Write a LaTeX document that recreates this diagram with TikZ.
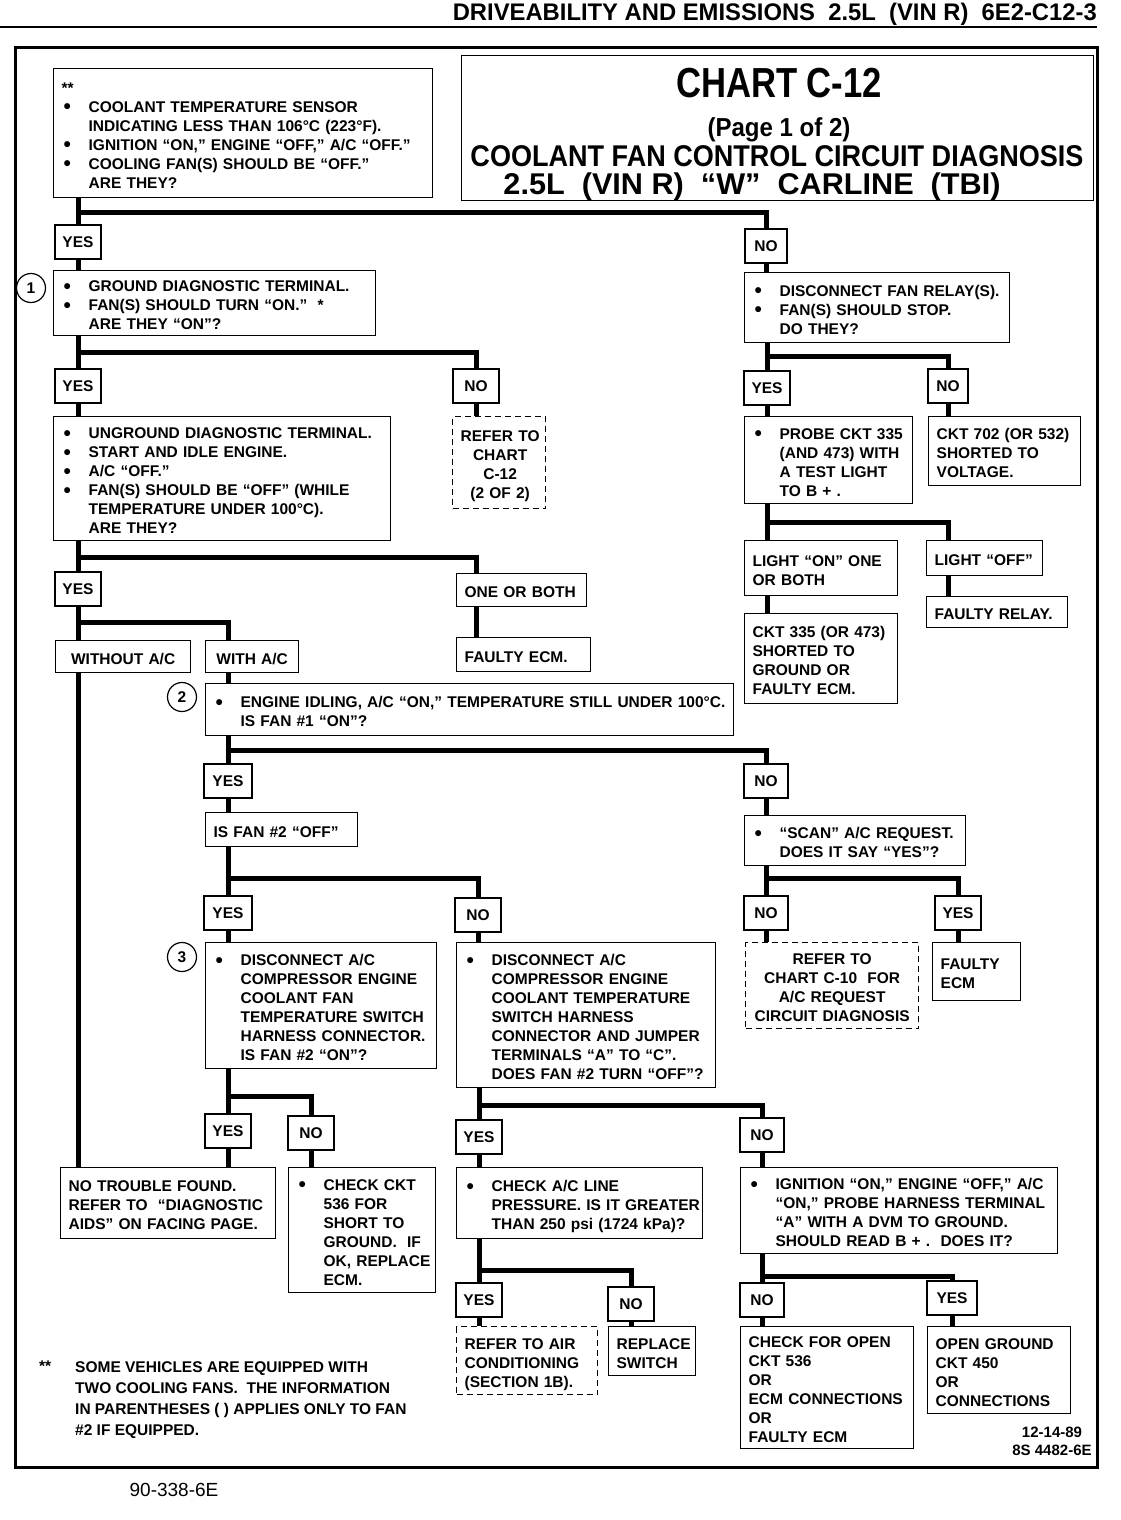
\documentclass[tikz,border=0pt]{standalone}
\usepackage{fontspec}
\setmainfont{Liberation Sans}
\usepackage{graphicx}

\newcommand{\bodyfont}{\fontsize{15.5}{19}\selectfont\bfseries}
\newcommand{\bul}{\makebox[27pt][l]{\hspace{2pt}\raisebox{-1.5pt}{\scalebox{1.35}{\textbullet}}}}
\newcommand{\ind}{\hspace*{27pt}}
\newcommand{\boxtext}[1]{\raisebox{-4pt}[\height][\depth]{\begin{tabular}{@{}l@{}}#1\end{tabular}}}
\newcommand{\boxtextc}[1]{\raisebox{-4pt}[\height][\depth]{\begin{tabular}{@{}c@{}}#1\end{tabular}}}

\tikzset{
  box/.style={draw, line width=1.3pt, anchor=north west, inner xsep=8pt, inner ysep=0pt, align=left, font=\bodyfont},
  cbox/.style={box, align=center},
  dbox/.style={box, dash pattern=on 6pt off 4pt},
  ans/.style={draw, line width=1.3pt, inner sep=0pt, minimum width=46pt, minimum height=34pt, font=\bodyfont},
  num/.style={draw, circle, line width=1.2pt, minimum size=29pt, inner sep=0pt, font=\bodyfont},
  flow/.style={line width=5pt},
}

\begin{document}
\begin{tikzpicture}[x=1pt,y=-1pt]
\useasboundingbox (0,0) rectangle (1120,1520);

% page header and frame
\node[anchor=base east, inner sep=0pt] (head) at (1097,21)
  {\resizebox{644pt}{\height}{\fontsize{24}{24}\selectfont\bfseries DRIVEABILITY AND EMISSIONS\ \ 2.5L\ \ (VIN R)\ \ 6E2-C12-3}};
\draw[line width=1.6pt] (0,27) -- (1097,27);
\draw[line width=3pt] (15,48) rectangle (1097,1467);

% title block
\node[draw, line width=1.3pt, anchor=north west, minimum width=632pt, minimum height=145pt] (title) at (461,55) {};
\node[anchor=base, inner sep=0pt] (ttl1) at (779,97) {\resizebox{206pt}{\height}{\fontsize{42}{42}\selectfont\bfseries CHART C-12}};
\node[anchor=base, inner sep=0pt] (ttl2) at (779,136) {\resizebox{143pt}{\height}{\fontsize{26}{26}\selectfont\bfseries (Page 1 of 2)}};
\node[anchor=base, inner sep=0pt] (ttl3) at (777,166) {\resizebox{613pt}{\height}{\fontsize{30}{30}\selectfont\bfseries COOLANT FAN CONTROL CIRCUIT DIAGNOSIS}};
\node[anchor=base, inner sep=0pt] (ttl4) at (752,194) {\resizebox{497pt}{\height}{\fontsize{30}{30}\selectfont\bfseries 2.5L\ \ (VIN R)\ \ “W”\ \ CARLINE\ \ (TBI)}};

% left column
\node[box, text width=363pt, minimum height=129pt] (q0) at (53,68) {\boxtext{**\\
  \bul COOLANT TEMPERATURE SENSOR\\
  \ind INDICATING LESS THAN 106°C (223°F).\\
  \bul IGNITION “ON,” ENGINE “OFF,” A/C “OFF.”\\
  \bul COOLING FAN(S) SHOULD BE “OFF.”\\
  \ind ARE THEY?}};
\node[ans] (y1) at (78,242) {YES};
\node[ans, minimum width=42pt] (n1) at (766,246) {NO};
\node[num] (c1) at (31,288) {1};
\node[box, text width=306pt, minimum height=65pt] (q1) at (53,270) {\boxtext{\bul GROUND DIAGNOSTIC TERMINAL.\\
  \bul FAN(S) SHOULD TURN “ON.”\ \ *\\
  \ind ARE THEY “ON”?}};
\node[box, text width=249pt, minimum height=70pt] (q1r) at (744,272) {\boxtext{\bul DISCONNECT FAN RELAY(S).\\
  \bul FAN(S) SHOULD STOP.\\
  \ind DO THEY?}};

\node[ans] (y2) at (78,386) {YES};
\node[ans] (n2) at (476,386) {NO};
\node[dbox, align=center, text width=77pt, minimum height=92pt] (refc12) at (452,416) {\boxtextc{REFER TO\\CHART\\C-12\\(2 OF 2)}};
\node[box, text width=321pt, minimum height=124pt] (q2) at (53,416) {\boxtext{\bul UNGROUND DIAGNOSTIC TERMINAL.\\
  \bul START AND IDLE ENGINE.\\
  \bul A/C “OFF.”\\
  \bul FAN(S) SHOULD BE “OFF” (WHILE\\
  \ind TEMPERATURE UNDER 100°C).\\
  \ind ARE THEY?}};

% right column, relay branch
\node[ans] (y2r) at (767,388) {YES};
\node[ans, minimum width=40pt] (n2r) at (948,386) {NO};
\node[box, text width=152pt, minimum height=87pt] (probe) at (744,416) {\boxtext{\bul PROBE CKT 335\\
  \ind (AND 473) WITH\\
  \ind A TEST LIGHT\\
  \ind TO B + .}};
\node[box, text width=136pt, minimum height=69pt] (ckt702) at (928,416) {\boxtext{CKT 702 (OR 532)\\SHORTED TO\\VOLTAGE.}};
\node[box, text width=137pt, minimum height=55pt] (lighton) at (744,540) {\boxtext{LIGHT “ON” ONE\\OR BOTH}};
\node[box, text width=100pt, minimum height=35pt] (lightoff) at (926,540) {\boxtext{LIGHT “OFF”}};
\node[box, text width=125pt, minimum height=31pt] (relay) at (926,596) {\boxtext{FAULTY RELAY.}};
\node[box, text width=137pt, minimum height=90pt] (ckt335) at (744,613) {\boxtext{CKT 335 (OR 473)\\SHORTED TO\\GROUND OR\\FAULTY ECM.}};

% engine idle branch
\node[ans] (y3) at (78,589) {YES};
\node[box, text width=114pt, minimum height=33pt] (oneboth) at (456,573) {\boxtext{ONE OR BOTH}};
\node[box, text width=118pt, minimum height=34pt] (ecm1) at (456,637) {\boxtext{FAULTY ECM.}};
\node[cbox, text width=119pt, minimum height=32pt] (noac) at (55,640) {\boxtextc{WITHOUT A/C}};
\node[cbox, text width=77pt, minimum height=32pt] (withac) at (205,640) {\boxtextc{WITH A/C}};
\node[num] (c2) at (182,697) {2};
\node[box, text width=512pt, minimum height=52pt] (q3) at (205,683) {\boxtext{\bul ENGINE IDLING, A/C “ON,” TEMPERATURE STILL UNDER 100°C.\\
  \ind IS FAN \#1 “ON”?}};

\node[ans, minimum width=48pt] (y4) at (228,781) {YES};
\node[ans, minimum width=44pt] (n4) at (766,781) {NO};
\node[box, text width=136pt, minimum height=34pt] (fan2) at (205,812) {\boxtext{IS FAN \#2 “OFF”}};
\node[box, text width=205pt, minimum height=50pt] (scan) at (744,815) {\boxtext{\bul “SCAN” A/C REQUEST.\\
  \ind DOES IT SAY “YES”?}};

\node[ans, minimum width=48pt] (y5) at (228,913) {YES};
\node[ans] (n5) at (478,915) {NO};
\node[ans, minimum width=44pt] (n5r) at (766,913) {NO};
\node[ans] (y5r) at (958,913) {YES};
\node[num] (c3) at (182,957) {3};
\node[box, text width=215pt, minimum height=126pt] (q5) at (205,942) {\boxtext{\bul DISCONNECT A/C\\
  \ind COMPRESSOR ENGINE\\
  \ind COOLANT FAN\\
  \ind TEMPERATURE SWITCH\\
  \ind HARNESS CONNECTOR.\\
  \ind IS FAN \#2 “ON”?}};
\node[box, text width=243pt, minimum height=145pt] (q5n) at (456,942) {\boxtext{\bul DISCONNECT A/C\\
  \ind COMPRESSOR ENGINE\\
  \ind COOLANT TEMPERATURE\\
  \ind SWITCH HARNESS\\
  \ind CONNECTOR AND JUMPER\\
  \ind TERMINALS “A” TO “C”.\\
  \ind DOES FAN \#2 TURN “OFF”?}};
\node[dbox, align=center, text width=157pt, minimum height=86pt] (refc10) at (745,942) {\boxtextc{REFER TO\\CHART C-10\ \ FOR\\A/C REQUEST\\CIRCUIT DIAGNOSIS}};
\node[box, text width=72pt, minimum height=58pt] (ecm2) at (932,942) {\boxtext{FAULTY\\ECM}};

% bottom rows
\node[ans] (y6) at (228,1131) {YES};
\node[ans] (n6) at (311,1133) {NO};
\node[ans] (y6b) at (479,1137) {YES};
\node[ans, minimum width=44pt] (n6b) at (762,1135) {NO};
\node[box, text width=199pt, minimum height=71pt] (nofault) at (60,1167) {\boxtext{NO TROUBLE FOUND.\\
  REFER TO\ \ “DIAGNOSTIC\\
  AIDS” ON FACING PAGE.}};
\node[box, text width=131pt, minimum height=125pt] (ckt536) at (288,1167) {\boxtext{\bul CHECK CKT\\
  \ind 536 FOR\\
  \ind SHORT TO\\
  \ind GROUND.\ \ IF\\
  \ind OK, REPLACE\\
  \ind ECM.}};
\node[box, text width=230pt, minimum height=71pt] (acline) at (456,1167) {\boxtext{\bul CHECK A/C LINE\\
  \ind PRESSURE. IS IT GREATER\\
  \ind THAN 250 psi (1724 kPa)?}};
\node[box, text width=301pt, minimum height=86pt] (probea) at (740,1167) {\boxtext{\bul IGNITION “ON,” ENGINE “OFF,” A/C\\
  \ind “ON,” PROBE HARNESS TERMINAL\\
  \ind “A” WITH A DVM TO GROUND.\\
  \ind SHOULD READ B + .\ \ DOES IT?}};

\node[ans] (y7) at (479,1300) {YES};
\node[ans] (n7) at (631,1304) {NO};
\node[ans, minimum width=44pt] (n7r) at (762,1300) {NO};
\node[ans, minimum width=50pt] (y7r) at (952,1298) {YES};
\node[dbox, text width=125pt, minimum height=68pt] (refair) at (456,1326) {\boxtext{REFER TO AIR\\CONDITIONING\\(SECTION 1B).}};
\node[box, text width=71pt, minimum height=49pt] (switch) at (608,1326) {\boxtext{REPLACE\\SWITCH}};
\node[box, text width=157pt, minimum height=122pt] (open536) at (740,1326) {\boxtext{CHECK FOR OPEN\\CKT 536\\OR\\ECM CONNECTIONS\\OR\\FAULTY ECM}};
\node[box, text width=127pt, minimum height=87pt] (open450) at (927,1326) {\boxtext{OPEN GROUND\\CKT 450\\OR\\CONNECTIONS}};

% branch points
\coordinate (j0) at (78,212);
\coordinate (j1) at (78,352);
\coordinate (j1r) at (767,356);
\coordinate (j2r) at (767,522);
\coordinate (j2) at (78,557);
\coordinate (j3) at (78,622);
\coordinate (j4) at (228,750);
\coordinate (j5) at (228,878);
\coordinate (j5r) at (766,878);
\coordinate (j6) at (228,1096);
\coordinate (j7) at (479,1105);
\coordinate (j8) at (479,1270);
\coordinate (j9) at (762,1276);

% flow lines
\draw[flow] (q0.south -| y1) -- (y1.north);
\draw[flow] (j0) -| (n1.north);
\draw[flow] (y1.south) -- (q1.north -| y1);
\draw[flow] (n1.south) -- (q1r.north -| n1);
\draw[flow] (q1.south -| y2) -- (y2.north);
\draw[flow] (j1) -| (n2.north);
\draw[flow] (y2.south) -- (q2.north -| y2);
\draw[flow] (n2.south) -- (refc12.north -| n2);
\draw[flow] (q1r.south -| y2r) -- (y2r.north);
\draw[flow] (j1r) -| (n2r.north);
\draw[flow] (y2r.south) -- (probe.north -| y2r);
\draw[flow] (n2r.south) -- (ckt702.north -| n2r);
\draw[flow] (probe.south -| y2r) -- (lighton.north -| y2r);
\draw[flow] (j2r) -| (lightoff.north -| n2r);
\draw[flow] (lighton.south -| y2r) -- (ckt335.north -| y2r);
\draw[flow] (lightoff.south -| n2r) -- (relay.north -| n2r);
\draw[flow] (q2.south -| y3) -- (y3.north);
\draw[flow] (j2) -| (oneboth.north -| n2);
\draw[flow] (oneboth.south -| n2) -- (ecm1.north -| n2);
\draw[flow] (y3.south) -- (noac.north -| y3);
\draw[flow] (j3) -| (withac.north -| y4);
\draw[flow] (noac.south -| y3) -- (nofault.north -| y3);
\draw[flow] (withac.south -| y4) -- (q3.north -| y4);
\draw[flow] (q3.south -| y4) -- (y4.north);
\draw[flow] (j4) -| (n4.north);
\draw[flow] (y4.south) -- (fan2.north -| y4);
\draw[flow] (n4.south) -- (scan.north -| n4);
\draw[flow] (fan2.south -| y5) -- (y5.north);
\draw[flow] (j5) -| (n5.north);
\draw[flow] (y5.south) -- (q5.north -| y5);
\draw[flow] (n5.south) -- (q5n.north -| n5);
\draw[flow] (scan.south -| n5r) -- (n5r.north);
\draw[flow] (j5r) -| (y5r.north);
\draw[flow] (n5r.south) -- (refc10.north -| n5r);
\draw[flow] (y5r.south) -- (ecm2.north -| y5r);
\draw[flow] (q5.south -| y6) -- (y6.north);
\draw[flow] (j6) -| (n6.north);
\draw[flow] (y6.south) -- (nofault.north -| y6);
\draw[flow] (n6.south) -- (ckt536.north -| n6);
\draw[flow] (q5n.south -| y6b) -- (y6b.north);
\draw[flow] (j7) -| (n6b.north);
\draw[flow] (y6b.south) -- (acline.north -| y6b);
\draw[flow] (n6b.south) -- (probea.north -| n6b);
\draw[flow] (acline.south -| y7) -- (y7.north);
\draw[flow] (j8) -| (n7.north);
\draw[flow] (y7.south) -- (refair.north -| y7);
\draw[flow] (n7.south) -- (switch.north -| n7);
\draw[flow] (probea.south -| n7r) -- (n7r.north);
\draw[flow] (j9) -| (y7r.north);
\draw[flow] (n7r.south) -- (open536.north -| n7r);
\draw[flow] (y7r.south) -- (open450.north -| y7r);

% notes
\node[anchor=north west, inner sep=0pt, font=\bodyfont] (star) at (39,1361) {**};
\node[anchor=north west, inner sep=0pt, align=left, font=\fontsize{15.5}{21}\selectfont\bfseries] (note) at (75,1361)
  {SOME VEHICLES ARE EQUIPPED WITH\\TWO COOLING FANS.\ \ THE INFORMATION\\IN PARENTHESES ( ) APPLIES ONLY TO FAN\\\#2 IF EQUIPPED.};
\node[align=center, inner sep=0pt, font=\fontsize{15}{18}\selectfont\bfseries] (date) at (1052,1441) {12-14-89\\8S 4482-6E};
\node[inner sep=0pt, font=\fontsize{19}{19}\selectfont] (fig) at (174,1490) {90-338-6E};
\end{tikzpicture}
\end{document}
